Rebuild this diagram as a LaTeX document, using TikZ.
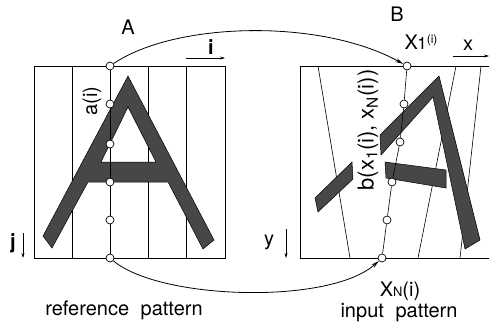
\documentclass[tikz,border=0pt]{standalone}
\usepackage{fontspec}
\setmainfont{TeX Gyre Heros}
\usetikzlibrary{arrows.meta}

\begin{document}
\begin{tikzpicture}[x=1pt, y=-1pt,
  punto/.style={circle, draw, fill=white, minimum size=8pt, inner sep=0pt,
                line width=0.7pt},
  marco/.style={line width=1pt},
  guia/.style={line width=0.6pt},
  letra/.style={fill=black!72, draw=black, line width=0.5pt},
  rotulo/.style={font=\fontsize{20}{22}\selectfont, inner sep=0pt},
  eje/.style={line width=0.6pt, -{Stealth[length=5pt,width=3pt]}},
  flecha/.style={line width=0.8pt, -{Stealth[length=8pt,width=4pt]}},
]
\useasboundingbox (0,0) rectangle (489,327);
% ---- Patron de referencia -------------------------------------------------
\draw[marco] (34,66) rectangle (225,258);
\foreach \x in {72,148,186} {
  \draw[guia] (\x,66) -- (\x,258);
}
\path[letra, even odd rule] (43,236) -- (128,76) -- (214,240) -- (203,249)
  -- (168,182) -- (88,182) -- (52,248) -- cycle
  (128,107) -- (101,162) -- (156,162) -- cycle;
\foreach \y [count=\k] in {66,104,144,182,220,258} {
  \node[punto] (a\k) at (110,\y) {};
}
\draw[guia] (a1) -- (a2) -- (a3) -- (a4) -- (a5) -- (a6);
\node[rotulo] (tA) at (128,27) {A};
\node[rotulo, rotate=90] (ai) at (92,101) {a(i)};
\coordinate (i0) at (186,58);
\coordinate (i1) at (225,58);
\draw[eje] (i0) -- (i1);
\node[rotulo, font=\fontsize{20}{22}\selectfont\bfseries] (ti) at (211,47) {i};
\coordinate (j0) at (23,233);
\coordinate (j1) at (23,258);
\draw[eje] (j0) -- (j1);
\node[rotulo, font=\fontsize{20}{22}\selectfont\bfseries] (tj) at (13,243) {j};
\node[rotulo] (tref) at (124,310) {reference\hspace{0.3em} pattern};
% ---- Patron de entrada ----------------------------------------------------
\draw[marco] (489,66) -- (300,66) -- (300,258) -- (489,258);
\draw[guia] (318,66) -- (350,258);
\draw[guia] (456,66) -- (418,258);
\draw[guia] (481,66) -- (460,258);
\path[letra] (380,135) -- (439,76) -- (480,240) -- (465,249) -- (433,97)
  -- (381,155) -- cycle;
\path[letra] (385,162) -- (446,170) -- (446,188) -- (386,178) -- cycle;
\path[letra] (315,198) -- (352,162) -- (353,179) -- (318,212) -- cycle;
\foreach \x/\y [count=\k] in {407/66, 404/104, 400/142, 392/182, 387/220,
                              382/258} {
  \node[punto] (b\k) at (\x,\y) {};
}
\draw[guia] (b1) -- (b2) -- (b3) -- (b4) -- (b5) -- (b6);
\node[rotulo] (tB) at (397,14) {B};
\node[rotulo, rotate=90, font=\fontsize{22}{24}\selectfont] (bx) at (368,130)
  {b(x\textsubscript{1}(i), x\textsubscript{N}(i))};
\node[rotulo, anchor=base] (x1) at (421,49)
  {X\kern-0.5pt{\fontsize{17}{17}\selectfont 1}\raisebox{6pt}{\fontsize{12}{12}\selectfont (i)}};
\node[rotulo, anchor=base] (xN) at (400,296)
  {X{\fontsize{13}{13}\selectfont N}(i)};
\coordinate (x0) at (453,56);
\coordinate (x1e) at (489,56);
\draw[eje] (x0) -- (x1e);
\node[rotulo] (tx) at (468,45) {x};
\coordinate (y0) at (286,229);
\coordinate (y1) at (286,258);
\draw[eje] (y0) -- (y1);
\node[rotulo] (ty) at (269,242) {y};
\node[rotulo] (tinp) at (399,313) {input\hspace{0.3em} pattern};
% ---- Correspondencias -----------------------------------------------------
\draw[flecha] (a1) .. controls (175,22) and (320,18) .. (b1);
\draw[flecha] (a6) .. controls (160,300) and (330,305) .. (b6);
\end{tikzpicture}
\end{document}
